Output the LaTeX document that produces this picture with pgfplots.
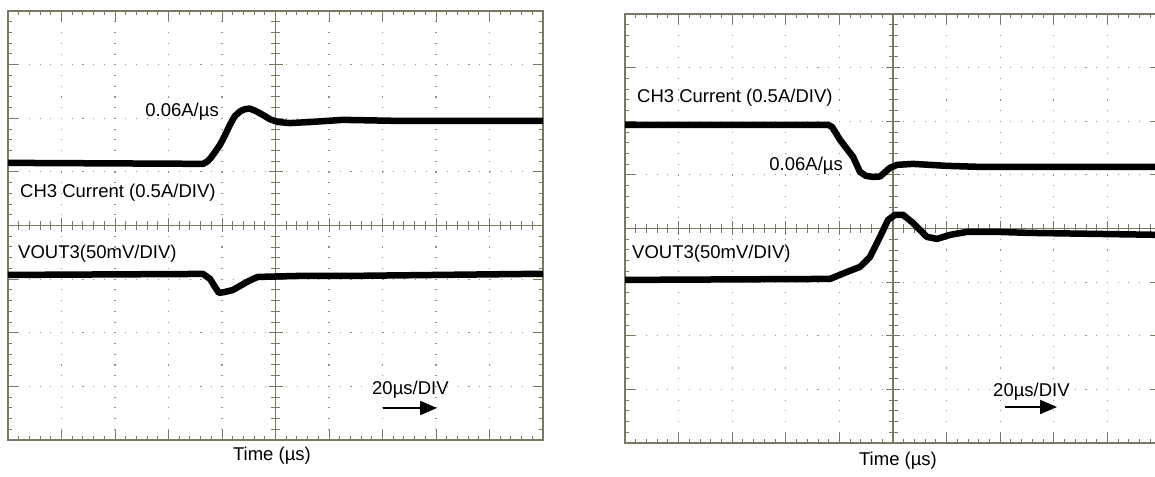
\documentclass[border=0pt]{standalone}
\usepackage{pgfplots}
\pgfplotsset{compat=1.18}
\usepackage{fontspec}
\setmainfont{Liberation Sans}
\usetikzlibrary{arrows.meta}
\definecolor{axc}{RGB}{125,120,100}
\definecolor{dotc}{RGB}{150,146,128}

\pgfplotsset{scopeaxis/.style={
  scale only axis, width=536pt, height=429pt,
  xmin=0, xmax=10, ymin=0, ymax=8,
  xtick={0,...,10}, ytick={0,...,8}, minor tick num=4,
  xticklabels={,,}, yticklabels={,,},
  tick align=inside, major tick length=10pt, minor tick length=4pt,
  axis line style={axc, line width=1.3pt},
  every tick/.style={axc, line width=0.9pt},
  grid=major,
  major grid style={dotc, line width=1.1pt, dash pattern=on 1.1pt off 9.62pt, dash phase=0.55pt},
}}

\newcommand{\centrecross}{%
  \draw[axc, line width=1.1pt] (axis cs:5,0) -- (axis cs:5,8);
  \draw[axc, line width=1.1pt] (axis cs:0,4) -- (axis cs:10,4);
  \pgfplotsinvokeforeach{0.2,0.4,...,7.8}{\draw[axc, line width=0.9pt] (axis cs:5,##1) ++(-4.5pt,0) -- ++(9pt,0);}
  \pgfplotsinvokeforeach{0.2,0.4,...,9.8}{\draw[axc, line width=0.9pt] (axis cs:##1,4) ++(0,-4.5pt) -- ++(0,9pt);}
  \pgfplotsinvokeforeach{1,...,7}{\draw[axc, line width=0.9pt] (axis cs:5,##1) ++(-7pt,0) -- ++(14pt,0);}
  \pgfplotsinvokeforeach{1,...,9}{\draw[axc, line width=0.9pt] (axis cs:##1,4) ++(0,-7pt) -- ++(0,14pt);}
}

\begin{document}
\begin{tikzpicture}
\path[use as bounding box] (0,0) rectangle (1155pt,476pt);

% ---------- left panel ----------
\begin{axis}[scopeaxis, at={(8pt,36pt)}, anchor=south west, width=535pt, height=429pt]
\centrecross
\addplot[black, line width=6.5pt, line join=round] coordinates {
(0,5.168) (3.55,5.15) (3.645,5.149) (3.72,5.19) (3.79,5.26) (3.87,5.37) (3.96,5.50)
(4.05,5.67) (4.15,5.88) (4.24,6.04) (4.34,6.13) (4.43,6.17) (4.52,6.18) (4.62,6.14)
(4.75,6.07) (4.90,5.98) (5.05,5.93) (5.27,5.91) (5.65,5.93) (6.26,5.97) (7.33,5.95) (10,5.95)
};
\addplot[black, line width=6.5pt, line join=round] coordinates {
(0,3.078) (3.645,3.097) (3.776,3.004) (3.869,2.854) (3.944,2.743) (4.056,2.761)
(4.206,2.799) (4.336,2.873) (4.467,2.948) (4.579,3.004) (4.673,3.041) (5.458,3.060)
(6.393,3.06) (10,3.10)
};
\end{axis}

% ---------- right panel ----------
\begin{axis}[scopeaxis, at={(625pt,33pt)}, anchor=south west, width=536pt, height=429pt]
\centrecross
\addplot[black, line width=6.5pt, line join=round] coordinates {
(0,5.933) (3.787,5.933) (3.862,5.896) (4.011,5.653) (4.254,5.336) (4.384,5.056)
(4.496,4.981) (4.627,4.963) (4.757,4.97) (4.944,5.131) (5.075,5.187) (5.373,5.205)
(6.007,5.168) (6.623,5.149) (10,5.149)
};
\addplot[black, line width=6.5pt, line join=round] coordinates {
(0,3.041) (3.825,3.060) (4.142,3.190) (4.384,3.284) (4.571,3.470) (4.757,3.843)
(4.907,4.160) (5.037,4.254) (5.187,4.254) (5.373,4.104) (5.634,3.843) (5.821,3.806)
(6.063,3.881) (6.381,3.937) (6.940,3.937) (7.556,3.918) (10,3.881)
};
\end{axis}

% ---------- labels ----------
\begin{scope}[every node/.style={inner sep=0pt, font=\fontsize{18.5}{21}\selectfont}]
\node[anchor=base east] at (219pt,359pt) {0.06A/µs};
\node[anchor=base west] at (20pt,278pt) {CH3 Current (0.5A/DIV)};
\node[anchor=base west] at (18pt,217pt) {VOUT3(50mV/DIV)};
\node[anchor=base west] at (372pt,81pt) {20µs/DIV};
\node[anchor=base] at (272pt,16pt) {Time (µs)};

\node[anchor=base west] at (637pt,373pt) {CH3 Current (0.5A/DIV)};
\node[anchor=base east] at (843pt,305pt) {0.06A/µs};
\node[anchor=base west] at (632pt,217pt) {VOUT3(50mV/DIV)};
\node[anchor=base west] at (993pt,79pt) {20µs/DIV};
\node[anchor=base] at (898pt,10pt) {Time (µs)};
\end{scope}
\draw[line width=2pt, -{Triangle[length=17pt,width=14pt]}] (383pt,68pt) -- (437pt,68pt);
\draw[line width=2pt, -{Triangle[length=17pt,width=14pt]}] (1005pt,69pt) -- (1057pt,69pt);
\end{tikzpicture}
\end{document}
